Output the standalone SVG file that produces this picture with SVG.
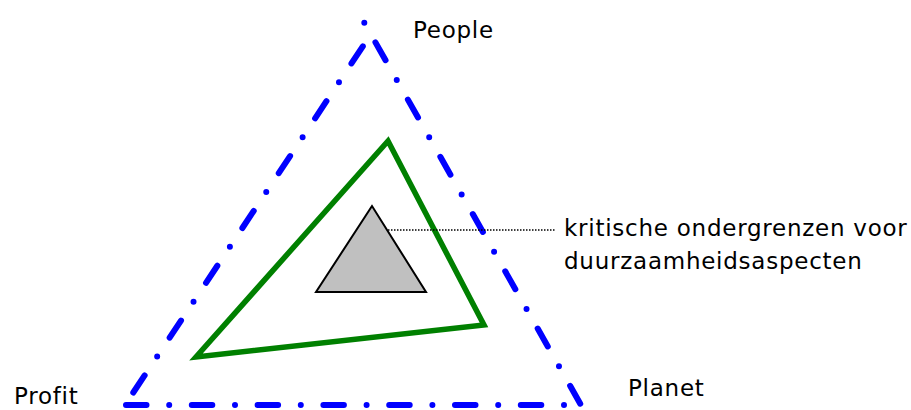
<svg xmlns="http://www.w3.org/2000/svg" width="911" height="410" viewBox="0 0 911 410">
<style>
.blue{fill:none;stroke:#0000ff;stroke-width:6;stroke-linecap:round;stroke-dasharray:20.5 22.7 0 22.6}
.lbl{font-family:"DejaVu Sans",sans-serif;font-size:23px;fill:#000;letter-spacing:0.75px}
</style>
<rect width="911" height="410" fill="#fff"/>
<g id="outer-triangle">
<line class="blue" x1="125" y1="405" x2="371" y2="34" stroke-dashoffset="50.8"/>
<line class="blue" x1="364.3" y1="22.7" x2="581" y2="405" stroke-dashoffset="43.2"/>
<line class="blue" x1="126" y1="405" x2="581" y2="405"/>
</g>
<g id="green-triangle">
<polygon points="388,141 484,325 196,357" fill="none" stroke="#008000" stroke-width="5.5" stroke-linejoin="miter"/>
</g>
<g id="grey-triangle">
<polygon points="372,206 316,292 426,292" fill="#c0c0c0" stroke="#000" stroke-width="2"/>
</g>
<g id="connectors">
<line x1="388" y1="230" x2="555" y2="230" stroke="#000" stroke-width="1.5" stroke-dasharray="1.5 1.5"/>
</g>
<g id="label-people"><text class="lbl" x="413" y="38">People</text></g>
<g id="label-profit"><text class="lbl" x="14" y="404">Profit</text></g>
<g id="label-planet"><text class="lbl" x="628" y="396">Planet</text></g>
<g id="label-critical">
<text class="lbl" x="564" y="236">kritische ondergrenzen voor</text>
<text class="lbl" x="564" y="269">duurzaamheidsaspecten</text>
</g>
</svg>
